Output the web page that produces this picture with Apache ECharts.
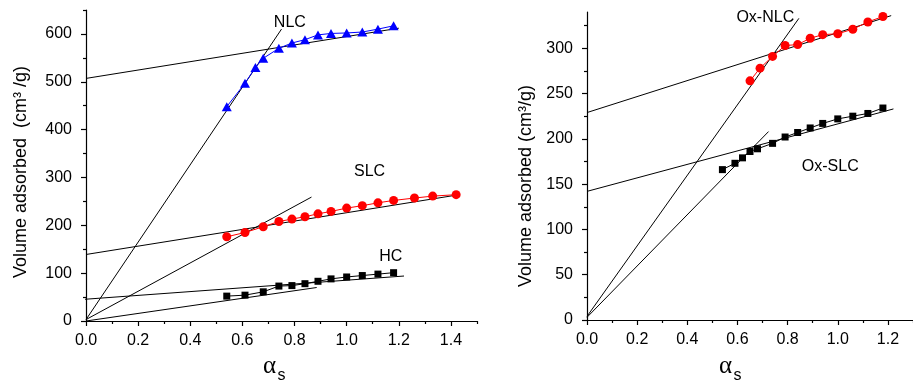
<!DOCTYPE html>
<html>
<head>
<meta charset="utf-8">
<script src="https://cdn.jsdelivr.net/npm/echarts@6/dist/echarts.min.js"></script>
<style>
html,body{margin:0;padding:0;background:#fff;}
#chart{width:913px;height:384px;}
</style>
</head>
<body>
<div id="chart"></div>
<script>
// ---- Left panel data ----
const nlcX = [0.54, 0.61, 0.65, 0.68, 0.74, 0.79, 0.84, 0.89, 0.94, 1.00, 1.06, 1.12, 1.18];
const nlcY = [448, 497, 530, 549, 570, 581, 588, 598, 601, 602, 604, 610, 617];
const slcX = [0.54, 0.61, 0.68, 0.74, 0.79, 0.84, 0.89, 0.94, 1.00, 1.06, 1.12, 1.18, 1.26, 1.33, 1.42];
const slcY = [176, 185, 197, 208, 213, 218, 224, 229, 236, 241, 247, 252, 257, 261, 264];
const hcX = [0.54, 0.61, 0.68, 0.74, 0.79, 0.84, 0.89, 0.94, 1.00, 1.06, 1.12, 1.18];
const hcY = [52, 54, 61, 73, 74, 78, 83, 88, 92, 95, 98, 101];

// fitted alpha-s lines (endpoints)
const nlcFitLow = [[0, 3], [0.75, 610]];
const nlcFitHigh = [[0, 507], [1.2, 612]];
const slcFitLow = [[0, 3], [0.865, 259]];
const slcFitHigh = [[0, 139], [1.42, 263]];
const hcFitLow = [[0, 0], [0.885, 70]];
const hcFitHigh = [[-0.04, 44], [1.22, 94]];

// ---- Right panel data ----
const oxNlcX = [0.65, 0.69, 0.74, 0.79, 0.84, 0.89, 0.94, 1.00, 1.06, 1.12, 1.18];
const oxNlcY = [264, 278, 291, 303, 304, 311, 315, 316, 321, 329, 335];
const oxSlcX = [0.54, 0.59, 0.62, 0.65, 0.68, 0.74, 0.79, 0.84, 0.89, 0.94, 1.00, 1.06, 1.12, 1.18];
const oxSlcY = [166, 173, 179, 186, 189, 195, 202, 207, 212, 217, 222, 225, 228, 234];

const oxNlcFitLow = [[0, 4], [0.845, 333]];
const oxNlcFitHigh = [[0, 229], [1.213, 336]];
const oxSlcFitLow = [[0, 3], [0.724, 208]];
const oxSlcFitHigh = [[0, 142], [1.222, 233]];

// ---- Ticks ----
const leftXTicks = [0, 0.2, 0.4, 0.6, 0.8, 1.0, 1.2, 1.4];
const leftXMinor = [0.1, 0.3, 0.5, 0.7, 0.9, 1.1, 1.3, 1.5];
const leftYTicks = [0, 100, 200, 300, 400, 500, 600];
const leftYMinor = [50, 150, 250, 350, 450, 550, 650];
const rightXTicks = [0, 0.2, 0.4, 0.6, 0.8, 1.0, 1.2];
const rightXMinor = [0.1, 0.3, 0.5, 0.7, 0.9, 1.1, 1.3];
const rightYTicks = [0, 50, 100, 150, 200, 250, 300];
const rightYMinor = [25, 75, 125, 175, 225, 275, 325];

// ---- Annotations (text, x, y in data units) ----
const annLeft = [['NLC', 0.782, 623], ['SLC', 1.088, 312], ['HC', 1.169, 134]];
const annRight = [['Ox-NLC', 0.711, 334], ['Ox-SLC', 0.970, 169]];

const FONT = 'Liberation Sans';
const zip = (xs, ys) => xs.map((x, i) => [x, ys[i]]);

function mainX(grid, min, max, ticks) {
  return {
    type: 'value', gridIndex: grid, min: min, max: max, position: 'bottom',
    splitLine: {show: false},
    axisLine: {show: true, onZero: false, lineStyle: {color: '#000', width: 1.2}},
    axisTick: {show: true, length: 5, customValues: ticks, lineStyle: {color: '#000', width: 1.2}},
    axisLabel: {show: true, customValues: ticks, margin: 12, color: '#000', fontSize: 16, fontFamily: FONT,
      formatter: v => v.toFixed(1)}
  };
}
function minorX(grid, min, max, ticks) {
  return {
    type: 'value', gridIndex: grid, min: min, max: max, position: 'bottom',
    splitLine: {show: false},
    axisLine: {show: false, onZero: false},
    axisTick: {show: true, length: 3, customValues: ticks, lineStyle: {color: '#000', width: 1.2}},
    axisLabel: {show: false}
  };
}
function mainY(grid, min, max, ticks, fs) {
  return {
    type: 'value', gridIndex: grid, min: min, max: max, position: 'left',
    splitLine: {show: false},
    axisLine: {show: true, onZero: false, lineStyle: {color: '#000', width: 1.2}},
    axisTick: {show: true, length: 5, customValues: ticks, lineStyle: {color: '#000', width: 1.2}},
    axisLabel: {show: true, customValues: ticks, margin: 14, color: '#000', fontSize: fs, fontFamily: FONT}
  };
}
function minorY(grid, min, max, ticks) {
  return {
    type: 'value', gridIndex: grid, min: min, max: max, position: 'left',
    splitLine: {show: false},
    axisLine: {show: false, onZero: false},
    axisTick: {show: true, length: 3, customValues: ticks, lineStyle: {color: '#000', width: 1.2}},
    axisLabel: {show: false}
  };
}

function fit(data, xi, yi) {
  return {
    type: 'line', xAxisIndex: xi, yAxisIndex: yi, data: data, symbol: 'none',
    clip: false, silent: true, z: 2,
    lineStyle: {color: '#000', width: 1}
  };
}
function dataSeries(name, xs, ys, xi, yi, color, symbol, size) {
  return {
    name: name, type: 'line', xAxisIndex: xi, yAxisIndex: yi, data: zip(xs, ys),
    symbol: symbol, symbolSize: size, showSymbol: true, z: 3,
    itemStyle: {color: color}, lineStyle: {color: color, width: 1}
  };
}

const staticGraphics = [
  {type: 'text', x: 21, y: 172, rotation: Math.PI / 2,
    style: {text: 'Volume adsorbed  (cm³ /g)', font: '18px "Liberation Sans"', fill: '#000', align: 'center', verticalAlign: 'middle'}},
  {type: 'text', x: 526, y: 186, rotation: Math.PI / 2,
    style: {text: 'Volume adsorbed (cm³/g)', font: '18px "Liberation Sans"', fill: '#000', align: 'center', verticalAlign: 'middle'}},
  {type: 'text', x: 269.5, y: 366,
    style: {text: 'α', font: '25px "Liberation Serif"', fill: '#000', align: 'center', verticalAlign: 'middle'}},
  {type: 'text', x: 277.5, y: 375.5,
    style: {text: 's', font: '16px "Liberation Sans"', fill: '#000', align: 'left', verticalAlign: 'middle'}},
  {type: 'text', x: 725.5, y: 366,
    style: {text: 'α', font: '25px "Liberation Serif"', fill: '#000', align: 'center', verticalAlign: 'middle'}},
  {type: 'text', x: 733.5, y: 375.5,
    style: {text: 's', font: '16px "Liberation Sans"', fill: '#000', align: 'left', verticalAlign: 'middle'}}
];

const chart = echarts.init(document.getElementById('chart'), null, {renderer: 'canvas'});
chart.setOption({
  animation: false,
  backgroundColor: '#fff',
  textStyle: {fontFamily: FONT},
  grid: [
    {left: 86, top: 10, width: 391, height: 311},
    {left: 587, top: 12, width: 342, height: 308}
  ],
  xAxis: [
    mainX(0, 0, 1.5, leftXTicks),
    minorX(0, 0, 1.5, leftXMinor),
    mainX(1, 0, 1.3, rightXTicks),
    minorX(1, 0, 1.3, rightXMinor)
  ],
  yAxis: [
    mainY(0, 0, 650, leftYTicks, 16),
    minorY(0, 0, 650, leftYMinor),
    mainY(1, 0, 340, rightYTicks, 16),
    minorY(1, 0, 340, rightYMinor)
  ],
  series: [
    fit(nlcFitLow, 0, 0), fit(nlcFitHigh, 0, 0),
    fit(slcFitLow, 0, 0), fit(slcFitHigh, 0, 0),
    fit(hcFitLow, 0, 0), fit(hcFitHigh, 0, 0),
    dataSeries('NLC', nlcX, nlcY, 0, 0, '#0000ff', 'triangle', [10, 9]),
    dataSeries('SLC', slcX, slcY, 0, 0, '#ff0000', 'circle', 9),
    dataSeries('HC', hcX, hcY, 0, 0, '#000000', 'rect', 7),
    fit(oxNlcFitLow, 2, 2), fit(oxNlcFitHigh, 2, 2),
    fit(oxSlcFitLow, 2, 2), fit(oxSlcFitHigh, 2, 2),
    dataSeries('Ox-NLC', oxNlcX, oxNlcY, 2, 2, '#ff0000', 'circle', 9),
    dataSeries('Ox-SLC', oxSlcX, oxSlcY, 2, 2, '#000000', 'rect', 7)
  ],
  graphic: staticGraphics
});

// Place annotation texts through the axes' own scales
function annGraphics(list, xi, yi) {
  return list.map(a => {
    const p = chart.convertToPixel({xAxisIndex: xi, yAxisIndex: yi}, [a[1], a[2]]);
    return {type: 'text', x: p[0], y: p[1],
      style: {text: a[0], font: '16px "Liberation Sans"', fill: '#000', align: 'center', verticalAlign: 'middle'}};
  });
}
chart.setOption({
  graphic: staticGraphics.concat(annGraphics(annLeft, 0, 0), annGraphics(annRight, 2, 2))
});
</script>
</body>
</html>
